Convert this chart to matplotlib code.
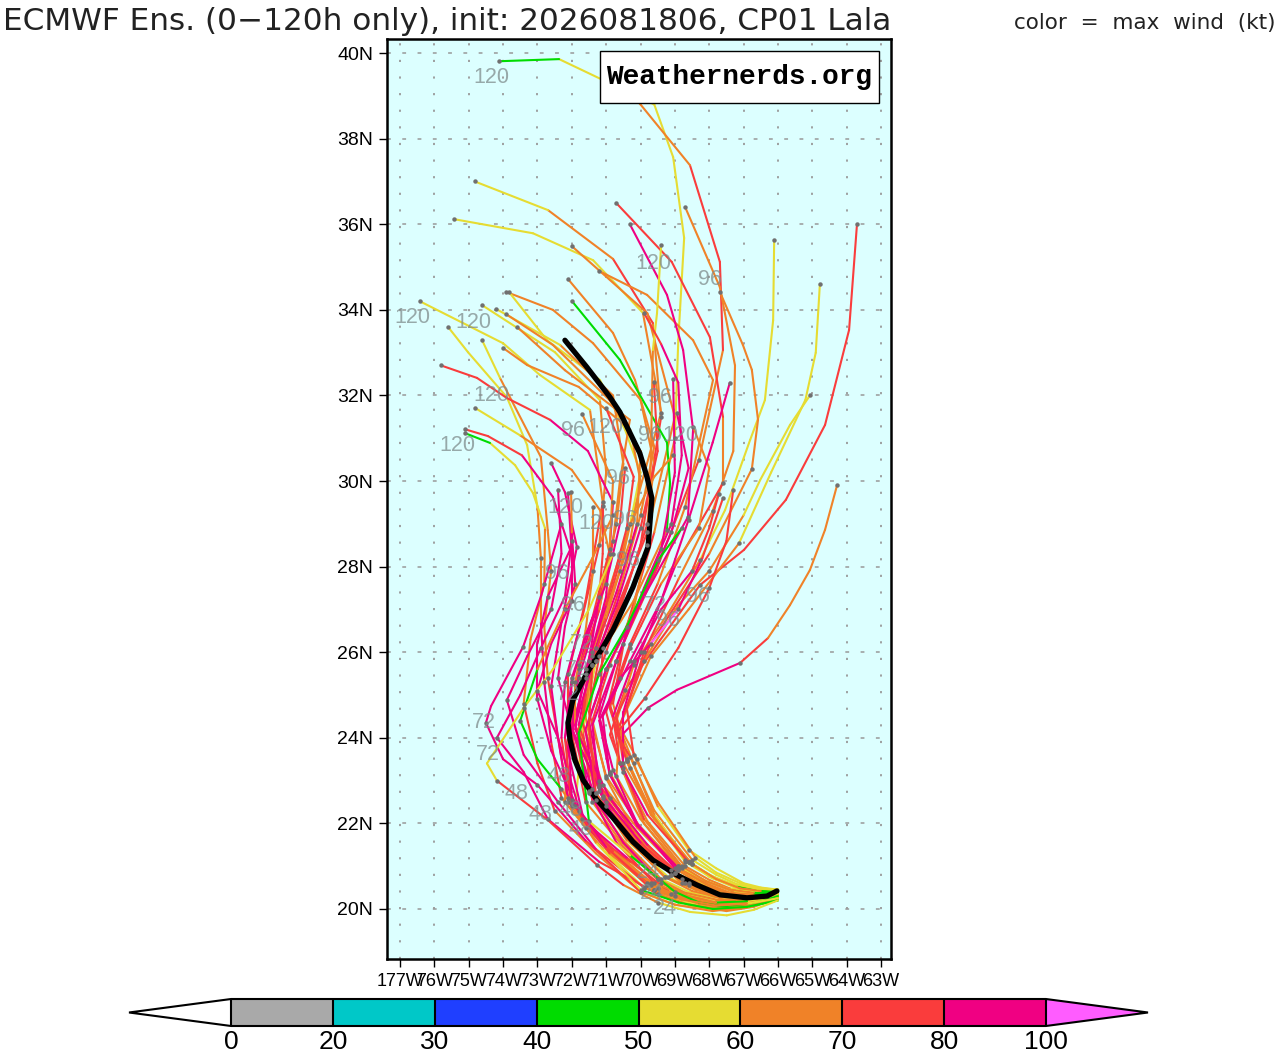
#!/usr/bin/env python
import matplotlib
matplotlib.use('Agg')
import matplotlib.pyplot as plt
from matplotlib.cm import ScalarMappable
from matplotlib.colors import BoundaryNorm, ListedColormap
from matplotlib.patches import Rectangle

# wind scale
wind_bounds = [0, 20, 30, 40, 50, 60, 70, 80, 100]
wind_colors = ['#a9a9a9', '#00c8c8', '#1f3fff', '#00dc00', '#e6dc32', '#f08228', '#fa3c3c', '#f00082']
wind_under = '#ffffff'
wind_over = '#ff5cff'

lat_ticks = [20, 22, 24, 26, 28, 30, 32, 34, 36, 38, 40]
lon_ticks = [-77, -76, -75, -74, -73, -72, -71, -70, -69, -68, -67, -66, -65, -64, -63]
lon_labels = ['177W', '76W', '75W', '74W', '73W', '72W', '71W', '70W', '69W', '68W', '67W', '66W', '65W', '64W', '63W']

# ensemble members: 0, 6, 12, 18, 24, 36, 48 h
early_lons = [
    [-66, -66.6, -67.2, -67.9, -68.5, -69.6, -70.3],
    [-66, -66.7, -67.4, -68.1, -68.8, -69.9, -70.6],
    [-66, -66.8, -67.6, -68.4, -69.2, -70.4, -71.3],
    [-66, -66.7, -67.4, -68.2, -69.0, -70.2, -71.1],
    [-66, -66.7, -67.3, -68.1, -68.9, -70.0, -71.0],
    [-66, -66.5, -67.1, -67.8, -68.6, -69.7, -70.4],
    [-66, -66.9, -67.8, -68.7, -69.5, -70.6, -71.4],
    [-66, -66.8, -67.7, -68.6, -69.6, -70.9, -71.9],
    [-66, -66.6, -67.3, -68.1, -68.9, -70.1, -70.9],
    [-66, -66.8, -67.6, -68.3, -69.1, -70.3, -71.2],
    [-66, -66.9, -67.8, -68.8, -69.8, -71.0, -72.2],
    [-66, -66.8, -67.7, -68.7, -69.7, -70.8, -72.0],
    [-66, -66.9, -67.7, -68.6, -69.4, -70.5, -71.5],
    [-66, -66.6, -67.2, -67.9, -68.7, -69.9, -71.0],
    [-66, -66.7, -67.5, -68.3, -69.0, -70.3, -71.6],
    [-66, -67.0, -67.9, -68.9, -69.9, -71.1, -72.3],
    [-66, -66.9, -67.8, -68.7, -69.7, -71.0, -72.1],
    [-66, -66.7, -67.4, -68.1, -68.9, -70.1, -71.2],
    [-66, -66.9, -67.8, -68.6, -69.4, -70.5, -71.6],
    [-66, -66.6, -67.3, -68.0, -68.8, -70.0, -71.1],
    [-66, -66.8, -67.7, -68.6, -69.5, -70.8, -71.8],
    [-66, -66.9, -67.9, -69.0, -70.0, -71.3, -72.5],
    [-66, -66.7, -67.5, -68.3, -69.1, -70.4, -71.7],
    [-66, -66.9, -67.9, -68.8, -69.8, -71.1, -72.1],
    [-66, -66.8, -67.5, -68.3, -69.1, -70.3, -71.4],
    [-66, -66.6, -67.2, -67.9, -68.6, -69.8, -71.0],
    [-66, -66.7, -67.4, -68.1, -69.0, -70.2, -71.2],
    [-66, -66.7, -67.4, -68.0, -68.7, -69.8, -70.5],
    [-66, -66.6, -67.3, -68.0, -68.6, -69.6, -70.2],
    [-66, -66.5, -67.1, -67.9, -68.7, -69.7, -70.4],
    [-66, -66.7, -67.4, -68.1, -68.9, -70.0, -70.7],
    [-66, -66.5, -67.0, -67.8, -68.6, -69.5, -70.1],
    [-66, -66.6, -67.2, -68.0, -68.7, -69.7, -70.5],
    [-66, -66.5, -67.1, -67.8, -68.4, -69.5, -70.2],
    [-66, -66.7, -67.4, -68.1, -68.8, -69.9, -70.5],
    [-66, -66.9, -67.8, -68.7, -69.5, -70.5, -71.3],
    [-66, -66.6, -67.4, -68.2, -69.1, -70.2, -71.0],
    [-66, -66.8, -67.6, -68.5, -69.3, -70.4, -71.2],
    [-66, -66.6, -67.3, -68.1, -68.8, -70.0, -71.1],
    [-66, -66.9, -67.8, -68.7, -69.6, -70.7, -71.5],
    [-66, -66.8, -67.7, -68.6, -69.6, -70.9, -72.0],
    [-66, -66.6, -67.2, -67.9, -68.6, -69.8, -70.9],
    [-66, -66.7, -67.4, -68.2, -69.0, -70.1, -70.8],
    [-66, -66.6, -67.2, -67.9, -68.5, -69.7, -70.4],
    [-66, -66.7, -67.4, -68.1, -68.9, -70.1, -70.9],
    [-66, -66.5, -67.1, -67.8, -68.6, -69.8, -70.6],
    [-66, -66.8, -67.6, -68.4, -69.3, -70.4, -71.3],
    [-66, -66.9, -67.8, -68.8, -69.8, -71.0, -72.0],
    [-66, -66.7, -67.5, -68.3, -69.0, -70.3, -71.5],
    [-66, -66.9, -67.9, -69.0, -70.0, -71.6, -73.0],
    [-66, -66.8, -67.7, -68.6, -69.5, -71.2, -72.7],
    [-66, -66.9, -67.8, -68.8, -69.9, -71.3, -72.4],
    [-66, -66.9, -67.9, -68.9, -70.0, -71.3, -72.3],
    [-66, -66.6, -67.2, -67.8, -68.5, -69.6, -70.3],
    [-66, -66.7, -67.4, -68.1, -68.9, -70.1, -70.9],
    [-66, -66.7, -67.49, -68.56, -69.5, -70.5, -71.27],
]
early_lats = [
    [20.45, 20.48, 20.55, 20.75, 21.05, 22.1, 23.3],
    [20.4, 20.38, 20.45, 20.65, 20.95, 22.0, 23.4],
    [20.35, 20.28, 20.3, 20.45, 20.75, 21.6, 22.7],
    [20.4, 20.3, 20.3, 20.5, 20.85, 21.8, 22.9],
    [20.4, 20.33, 20.35, 20.55, 20.9, 21.9, 23.1],
    [20.4, 20.42, 20.5, 20.7, 21.1, 22.3, 23.5],
    [20.3, 20.2, 20.2, 20.35, 20.7, 21.6, 22.5],
    [20.3, 20.1, 20.05, 20.2, 20.45, 21.3, 22.4],
    [20.4, 20.35, 20.4, 20.65, 21.0, 22.0, 23.2],
    [20.4, 20.3, 20.3, 20.5, 20.8, 21.75, 22.85],
    [20.25, 20.1, 20.1, 20.25, 20.55, 21.4, 22.5],
    [20.3, 20.15, 20.1, 20.3, 20.6, 21.4, 22.4],
    [20.35, 20.25, 20.25, 20.4, 20.7, 21.6, 22.7],
    [20.35, 20.25, 20.2, 20.35, 20.6, 21.4, 22.4],
    [20.25, 20.05, 19.95, 20.05, 20.3, 21.1, 21.9],
    [20.3, 20.1, 20.05, 20.2, 20.5, 21.4, 22.6],
    [20.25, 20.1, 20.1, 20.25, 20.55, 21.5, 22.6],
    [20.4, 20.32, 20.35, 20.55, 20.9, 21.9, 23.0],
    [20.3, 20.18, 20.15, 20.3, 20.6, 21.45, 22.5],
    [20.35, 20.22, 20.2, 20.35, 20.6, 21.5, 22.6],
    [20.25, 20.1, 20.05, 20.2, 20.5, 21.35, 22.3],
    [20.2, 20.05, 19.98, 20.1, 20.4, 21.3, 22.3],
    [20.3, 20.12, 20.02, 20.12, 20.35, 21.2, 22.1],
    [20.3, 20.15, 20.12, 20.28, 20.6, 21.5, 22.5],
    [20.4, 20.3, 20.3, 20.48, 20.8, 21.7, 22.8],
    [20.3, 20.2, 20.15, 20.3, 20.55, 21.4, 22.5],
    [20.35, 20.28, 20.3, 20.5, 20.85, 21.8, 22.9],
    [20.4, 20.4, 20.48, 20.68, 21.0, 22.05, 23.2],
    [20.45, 20.47, 20.55, 20.75, 21.1, 22.2, 23.4],
    [20.45, 20.45, 20.5, 20.72, 21.1, 22.25, 23.45],
    [20.4, 20.38, 20.45, 20.65, 21.0, 22.1, 23.1],
    [20.45, 20.5, 20.6, 20.95, 21.38, 22.4, 23.5],
    [20.4, 20.42, 20.52, 20.8, 21.15, 22.25, 23.4],
    [20.45, 20.48, 20.6, 20.85, 21.2, 22.5, 23.6],
    [20.4, 20.38, 20.45, 20.65, 21.0, 22.1, 23.3],
    [20.3, 20.22, 20.22, 20.38, 20.7, 21.55, 22.55],
    [20.4, 20.3, 20.32, 20.52, 20.9, 21.85, 23.05],
    [20.3, 20.24, 20.25, 20.42, 20.75, 21.65, 22.75],
    [20.35, 20.25, 20.25, 20.42, 20.7, 21.55, 22.65],
    [20.3, 20.18, 20.15, 20.32, 20.6, 21.55, 22.75],
    [20.3, 20.12, 20.08, 20.22, 20.45, 21.3, 22.45],
    [20.35, 20.25, 20.22, 20.35, 20.6, 21.5, 22.6],
    [20.4, 20.33, 20.35, 20.55, 20.95, 22.0, 23.25],
    [20.45, 20.42, 20.48, 20.72, 21.05, 22.2, 23.45],
    [20.4, 20.33, 20.38, 20.6, 20.95, 21.95, 23.15],
    [20.4, 20.42, 20.48, 20.7, 21.1, 22.2, 23.4],
    [20.35, 20.26, 20.27, 20.45, 20.75, 21.65, 22.7],
    [20.25, 20.1, 20.08, 20.25, 20.55, 21.45, 22.55],
    [20.3, 20.12, 20.05, 20.15, 20.4, 21.25, 22.05],
    [20.25, 20.05, 19.95, 20.1, 20.4, 21.6, 22.9],
    [20.25, 20.08, 20.0, 20.1, 20.35, 21.1, 22.1],
    [20.25, 20.12, 20.08, 20.22, 20.5, 21.4, 22.5],
    [20.2, 20.05, 20.0, 20.15, 20.45, 21.55, 22.8],
    [20.45, 20.48, 20.58, 20.8, 21.15, 22.3, 23.55],
    [20.4, 20.32, 20.36, 20.58, 20.95, 21.95, 23.15],
    [20.2, 19.98, 19.85, 19.93, 20.15, 20.56, 21.03],
]
early_winds = [
    [55, 55, 55, 55, 55, 65, 65],
    [55, 55, 55, 65, 65, 65, 75],
    [55, 45, 55, 55, 55, 65, 65],
    [55, 55, 55, 65, 65, 65, 65],
    [55, 45, 55, 65, 65, 65, 75],
    [55, 55, 55, 55, 65, 65, 75],
    [55, 45, 55, 55, 65, 65, 75],
    [45, 45, 45, 45, 55, 55, 55],
    [55, 55, 65, 65, 65, 65, 65],
    [55, 55, 55, 55, 55, 65, 65],
    [45, 45, 55, 55, 55, 65, 65],
    [55, 55, 55, 55, 65, 65, 75],
    [55, 45, 55, 55, 65, 65, 75],
    [55, 55, 65, 65, 65, 75, 75],
    [65, 65, 65, 65, 65, 75, 85],
    [45, 55, 55, 55, 55, 65, 75],
    [55, 45, 55, 55, 65, 65, 75],
    [55, 55, 55, 55, 65, 65, 75],
    [65, 65, 65, 65, 65, 65, 75],
    [55, 45, 55, 55, 65, 65, 75],
    [45, 55, 65, 65, 65, 75, 85],
    [45, 45, 55, 55, 65, 65, 75],
    [45, 65, 65, 65, 75, 85, 85],
    [55, 65, 65, 65, 75, 85, 85],
    [55, 65, 65, 65, 75, 85, 85],
    [65, 65, 65, 65, 75, 75, 85],
    [45, 55, 65, 65, 65, 75, 75],
    [45, 55, 65, 65, 65, 65, 75],
    [55, 55, 55, 55, 55, 65, 65],
    [55, 55, 55, 55, 55, 65, 65],
    [55, 55, 55, 55, 65, 65, 65],
    [55, 55, 55, 55, 55, 65, 65],
    [55, 45, 55, 55, 65, 65, 75],
    [55, 55, 55, 55, 65, 65, 75],
    [45, 65, 65, 65, 65, 75, 85],
    [65, 65, 65, 65, 85, 85, 85],
    [55, 55, 55, 55, 65, 65, 65],
    [45, 65, 65, 65, 75, 85, 85],
    [65, 65, 65, 65, 75, 85, 85],
    [55, 45, 65, 65, 75, 85, 85],
    [55, 55, 65, 65, 65, 75, 75],
    [65, 65, 65, 65, 75, 85, 85],
    [45, 65, 65, 65, 85, 85, 85],
    [55, 55, 55, 55, 65, 65, 75],
    [45, 65, 65, 65, 85, 85, 85],
    [45, 65, 65, 65, 75, 85, 75],
    [55, 55, 65, 65, 65, 65, 75],
    [55, 65, 65, 65, 75, 85, 85],
    [45, 45, 45, 45, 45, 55, 45],
    [55, 65, 65, 65, 75, 85, 85],
    [65, 65, 65, 65, 75, 85, 85],
    [55, 65, 65, 65, 75, 85, 85],
    [45, 45, 45, 45, 55, 65, 45],
    [55, 55, 55, 55, 65, 65, 75],
    [45, 65, 65, 65, 85, 85, 85],
    [55, 55, 55, 55, 65, 75, 75],
]

# same members from 60 h on
late_lons = [
    [-70.8, -70.4, -69.6, -69.0, -68.9, -68.73, -69.05, -69.6, -72.37, -74.12],
    [-71.0, -70.5, -69.5, -68.3, -67.6, -67.69, -68.56, -70.0, -71.0],
    [-71.8, -71.0, -70.0, -69.4, -69.64, -70.8, -72.69, -74.82],
    [-71.7, -71.3, -70.4, -69.4, -69.93, -71.38, -73.13, -75.43],
    [-71.5, -71.2, -70.6, -69.8, -69.0, -69.8, -72.0],
    [-70.9, -70.3, -69.5, -68.7, -67.89, -68.47, -69.81, -71.21],
    [-71.7, -71.3, -70.6, -70.0, -69.6, -70.16, -70.8, -72.11],
    [-71.7, -71.3, -70.2, -69.23, -69.14, -69.23, -70.6, -72.0],
    [-71.2, -71.1, -70.4, -69.8, -69.6, -70.0, -71.38, -72.55, -73.91],
    [-71.6, -71.4, -70.9, -70.3, -70.0, -70.45, -71.18, -72.72, -73.83],
    [-72.1, -72.1, -71.6, -71.1, -71.47, -72.93, -74.0, -76.42],
    [-72.3, -72.2, -71.7, -71.2, -71.0, -71.18, -72.49, -74.61],
    [-72.0, -71.8, -71.2, -70.7, -70.5, -70.8, -72.34, -74.2],
    [-71.8, -71.4, -70.7, -70.1, -70.0, -70.9, -72.55, -73.91],
    [-72.2, -71.8, -71.2, -70.8, -70.6, -70.31, -72.2, -73.59],
    [-72.6, -72.8, -72.9, -72.9, -73.0, -73.3, -73.89, -75.02, -75.6],
    [-72.4, -72.7, -72.8, -72.6, -72.7, -72.9, -74.09, -74.61],
    [-71.7, -71.5, -70.9, -70.3, -70.0, -70.3, -71.8, -73.3, -74.0],
    [-72.0, -71.6, -71.0, -70.8, -71.53, -72.63, -73.89, -74.76, -75.8],
    [-72.0, -71.8, -71.2, -70.9, -71.18, -72.0, -73.51, -74.82],
    [-72.6, -73.0, -73.0, -72.7, -72.05, -72.55, -73.45, -74.44, -75.11],
    [-73.0, -73.4, -73.2, -72.8, -72.78, -73.13, -73.65, -74.38, -75.11],
    [-72.4, -72.6, -72.3, -71.85, -72.2, -72.6],
    [-72.4, -73.0, -72.6, -72.0, -72.0, -72.11],
    [-72.0, -72.4, -72.2, -71.9, -72.0, -72.02],
    [-72.0, -71.6, -71.4, -71.2, -71.1, -71.09],
    [-71.9, -71.9, -71.6, -71.38, -71.38],
    [-70.89, -70.45, -69.43, -68.27, -66.99, -65.77, -64.63, -63.93, -63.7],
    [-70.7, -70.2, -69.14, -68.27, -67.54, -66.81, -66.38, -66.14, -66.11],
    [-70.6, -69.7, -68.6, -67.13, -66.2, -65.2, -64.9, -64.78],
    [-70.6, -69.9, -68.9, -68.0, -67.0, -66.52, -65.65, -65.07],
    [-70.5, -69.78, -68.94, -67.1, -66.29, -65.65, -65.07, -64.63, -64.28],
    [-70.7, -69.7, -68.0, -66.76, -66.58, -66.76, -67.02, -67.69],
    [-70.4, -69.9, -68.9, -67.9, -67.3, -67.25, -67.69, -68.7],
    [-70.5, -70.0, -69.0, -67.6, -67.6, -67.98, -69.09, -70.71],
    [-71.6, -71.0, -69.9, -68.62, -68.47, -68.76, -69.23, -70.31],
    [-71.4, -70.9, -70.2, -69.8, -69.7, -69.64, -69.52, -69.4],
    [-71.4, -70.7, -69.9, -69.1, -68.8, -68.9, -69.4, -69.9],
    [-71.5, -71.0, -70.2, -69.4, -69.0, -69.05],
    [-71.9, -71.4, -70.7, -70.0, -69.5, -69.61],
    [-72.2, -72.0, -71.4, -70.9, -70.8, -71.7],
    [-71.9, -71.6, -71.0, -70.4, -70.2, -71.0],
    [-71.2, -70.7, -70.0, -69.1, -68.6, -68.94],
    [-70.9, -70.3, -69.4, -68.3, -68.0, -68.47],
    [-71.1, -70.3, -69.4, -68.6, -67.9, -67.4],
    [-70.8, -70.2, -69.4, -68.5, -68.0, -67.72],
    [-71.5, -71.4, -71.0, -70.6, -70.3, -69.6, -69.05],
    [-72.1, -72.0, -71.6, -71.0, -70.6, -70.45],
    [-71.8, -71.2, -70.4, -69.49, -68.8],
    [-74.0, -74.5, -74.35, -73.42, -72.9, -72.3],
    [-73.4, -74.18, -73.5, -72.9, -72.2, -72.0],
    [-73.4, -73.89, -73.3, -72.6, -72.3, -72.4],
    [-73.0, -73.5, -73.0, -72.2, -71.4, -70.8],
    [-70.7, -69.87, -68.9, -68.0, -67.5, -67.3],
    [-71.2, -70.6, -69.7, -68.9, -68.2, -67.6],
    [-72.7, -74.18, -74.47, -73.4, -72.55, -71.5, -70.8],
]
late_lats = [
    [24.8, 26.6, 28.8, 31.0, 33.3, 35.68, 37.57, 38.8, 39.86, 39.81],
    [24.6, 26.2, 28.0, 30.5, 33.06, 35.12, 37.38, 38.8, 39.6],
    [24.2, 26.0, 28.5, 31.5, 33.69, 35.19, 36.33, 37.0],
    [24.4, 26.1, 28.7, 31.6, 33.93, 35.16, 35.79, 36.12],
    [24.6, 25.9, 27.2, 28.8, 31.5, 33.92, 35.49],
    [24.8, 26.2, 27.6, 29.4, 32.36, 33.29, 34.35, 34.91],
    [24.3, 25.8, 27.5, 29.2, 30.8, 32.36, 33.46, 34.72],
    [24.1, 25.8, 27.2, 28.86, 29.95, 30.9, 32.83, 34.21],
    [24.5, 26.1, 27.5, 29.0, 30.4, 31.9, 33.22, 34.0, 34.42],
    [24.5, 26.0, 27.5, 29.0, 30.2, 31.2, 32.36, 33.29, 34.42],
    [24.1, 25.5, 27.2, 29.5, 31.66, 32.48, 33.22, 34.2],
    [24.0, 25.3, 26.8, 28.5, 30.2, 31.89, 33.01, 34.11],
    [24.3, 25.7, 27.2, 29.0, 30.4, 32.0, 33.18, 34.02],
    [24.3, 25.9, 27.4, 29.0, 30.7, 31.89, 33.18, 33.9],
    [24.0, 25.4, 27.0, 28.6, 30.0, 31.43, 32.59, 33.6],
    [23.9, 25.3, 26.7, 28.2, 29.4, 30.84, 31.96, 33.01, 33.6],
    [24.0, 25.4, 26.6, 27.9, 28.85, 30.56, 32.41, 33.29],
    [24.4, 25.8, 27.2, 28.6, 30.0, 31.2, 32.2, 32.71, 33.11],
    [24.1, 25.5, 27.3, 29.5, 30.7, 31.43, 31.94, 32.41, 32.7],
    [24.2, 25.6, 27.0, 28.3, 29.32, 30.26, 31.07, 31.71],
    [23.7, 24.9, 26.2, 27.3, 28.39, 29.63, 30.6, 31.05, 31.21],
    [23.4, 24.8, 26.3, 27.6, 28.9, 29.72, 30.37, 30.89, 31.12],
    [24.0, 25.2, 26.7, 28.46, 29.74, 30.42],
    [24.0, 25.1, 26.2, 27.2, 28.3, 29.72],
    [24.2, 25.4, 26.6, 27.6, 28.8, 29.74],
    [24.2, 25.4, 26.3, 27.3, 28.3, 29.42],
    [24.3, 25.3, 26.5, 27.9, 29.4],
    [24.07, 25.12, 26.28, 27.57, 28.39, 29.56, 31.31, 33.53, 36.0],
    [24.4, 25.7, 26.98, 28.15, 29.32, 30.96, 31.89, 33.76, 35.63],
    [24.3, 25.9, 27.0, 28.55, 30.2, 31.9, 33.0, 34.6],
    [24.3, 25.8, 27.1, 27.9, 29.2, 30.02, 31.31, 32.0],
    [24.1, 24.7, 25.12, 25.75, 26.33, 27.1, 27.92, 28.86, 29.9],
    [24.5, 26.2, 28.3, 30.28, 31.43, 32.6, 33.18, 34.42],
    [24.7, 26.0, 27.7, 29.3, 30.7, 32.7, 34.53, 36.4],
    [24.6, 26.0, 28.0, 29.95, 31.5, 33.36, 35.12, 36.5],
    [24.2, 25.6, 27.3, 29.16, 31.2, 33.06, 34.35, 36.0],
    [24.4, 25.7, 27.0, 28.5, 30.5, 33.06, 33.92, 35.51],
    [24.3, 25.8, 27.5, 29.0, 30.6, 32.3, 33.2, 33.93],
    [24.4, 25.6, 26.9, 28.4, 30.2, 32.38],
    [24.3, 25.7, 27.1, 28.9, 30.7, 32.31],
    [24.0, 25.4, 26.8, 28.4, 30.0, 31.57],
    [24.2, 25.6, 27.1, 28.9, 30.1, 31.7],
    [24.5, 25.8, 27.2, 28.8, 30.3, 31.59],
    [24.7, 26.1, 27.6, 28.9, 30.3, 31.27],
    [24.5, 25.8, 27.2, 29.1, 30.9, 32.3],
    [24.5, 25.8, 27.0, 27.9, 28.9, 29.7],
    [24.3, 25.7, 26.8, 27.9, 29.0, 30.1, 30.6],
    [24.1, 25.3, 26.4, 27.6, 29.0, 30.3],
    [24.1, 25.5, 26.6, 28.15, 28.9],
    [23.5, 24.35, 24.74, 26.12, 27.3, 29.0],
    [23.2, 24.0, 25.0, 26.1, 27.3, 28.6],
    [23.6, 24.88, 25.9, 27.0, 28.3, 29.8],
    [23.5, 24.4, 25.6, 27.0, 28.2, 29.2],
    [24.1, 24.93, 26.1, 27.5, 28.6, 29.8],
    [24.4, 25.4, 26.2, 27.0, 28.2, 29.6],
    [22.08, 23.0, 23.4, 24.7, 25.6, 27.0, 28.3],
]
late_winds = [
    [75, 75, 65, 55, 55, 55, 55, 55, 45, 45],
    [75, 75, 75, 65, 75, 75, 65, 65, 65],
    [75, 75, 75, 65, 75, 65, 55, 55],
    [75, 75, 65, 65, 55, 55, 55, 55],
    [75, 75, 75, 65, 65, 65, 65],
    [75, 75, 65, 65, 65, 65, 65, 65],
    [75, 75, 65, 65, 65, 65, 65, 65],
    [55, 65, 65, 45, 45, 45, 45, 45],
    [75, 75, 75, 65, 65, 65, 65, 65, 65],
    [65, 65, 65, 55, 55, 55, 55, 55, 55],
    [75, 75, 75, 65, 55, 55, 55, 55],
    [85, 85, 75, 65, 65, 55, 55, 55],
    [75, 85, 75, 65, 65, 65, 55, 55],
    [85, 85, 85, 65, 65, 65, 65, 65],
    [85, 85, 75, 65, 65, 65, 65, 65],
    [85, 85, 65, 65, 55, 55, 55, 55, 55],
    [75, 65, 65, 65, 65, 65, 55, 55],
    [75, 65, 65, 65, 65, 65, 65, 65, 65],
    [85, 85, 85, 85, 85, 75, 75, 75, 75],
    [85, 75, 65, 65, 65, 65, 55, 55],
    [85, 85, 85, 85, 85, 85, 75, 75, 75],
    [75, 65, 65, 65, 55, 55, 55, 45, 45],
    [85, 85, 85, 85, 85, 85],
    [85, 85, 85, 85, 85, 85],
    [85, 85, 85, 85, 65, 65],
    [85, 85, 85, 75, 75, 75],
    [65, 65, 65, 65, 65],
    [75, 75, 75, 75, 75, 75, 75, 75, 75],
    [65, 65, 65, 55, 55, 55, 55, 55, 55],
    [65, 65, 65, 55, 55, 55, 55, 55],
    [75, 65, 65, 65, 55, 55, 55, 55],
    [85, 85, 85, 75, 65, 65, 65, 65, 65],
    [75, 75, 65, 65, 65, 65, 65, 65],
    [75, 75, 65, 65, 65, 65, 65, 65],
    [85, 85, 75, 65, 75, 75, 75, 75],
    [85, 85, 85, 85, 85, 85, 85, 85],
    [75, 65, 65, 65, 65, 55, 55, 55],
    [85, 85, 85, 85, 85, 85, 75, 75],
    [85, 85, 85, 85, 85, 75, 75],
    [85, 85, 85, 75, 75, 75],
    [85, 85, 75, 65, 65, 65],
    [85, 85, 75, 75, 75, 75],
    [85, 85, 85, 85, 85, 85],
    [75, 75, 65, 65, 65, 65],
    [85, 85, 85, 85, 85, 75],
    [85, 85, 85, 75, 75, 75],
    [75, 75, 65, 65, 65, 65, 65],
    [85, 85, 85, 85, 75, 75],
    [45, 45, 45, 45, 45],
    [85, 85, 85, 85, 85, 85],
    [85, 85, 85, 85, 85, 85],
    [85, 85, 85, 85, 85, 85],
    [45, 45, 65, 65, 65, 65],
    [75, 75, 75, 75, 75, 75],
    [85, 85, 105, 85, 75, 75],
    [75, 55, 55, 55, 55, 55, 55],
]

# ensemble mean
mean_lons = [-66.03, -66.32, -66.9, -67.69, -68.36, -68.94, -69.64, -70.22, -70.8, -71.27, -71.67, -71.91, -72.05,
             -72.11, -71.97, -71.56, -71.09, -70.8, -70.22, -69.78, -69.67, -69.81, -70.02, -70.6, -70.89, -71.56, -72.2]
mean_lats = [20.42, 20.3, 20.26, 20.33, 20.56, 20.79, 21.14, 21.57, 22.13, 22.55, 23.01, 23.48, 23.95,
             24.35, 24.88, 25.51, 26.12, 26.52, 27.52, 28.46, 29.6, 30.09, 30.65, 31.61, 31.96, 32.66, 33.29]

# forecast hour labels
hour_text = ['120', '120', '96', '120', '120', '120', '96', '120', '96', '96', '120', '120', '96', '120', '120', '96',
             '96', '96', '96', '72', '96', '96', '72', '72', '72', '72', '72', '48', '48', '48', '48', '48', '24', '24', '24']
hour_lons = [-74.35, -69.64, -67.98, -76.65, -74.85, -74.35, -71.97, -71.03, -69.43, -69.72, -68.85, -75.34, -70.66,
             -72.2, -71.27, -70.45, -72.43, -70.36, -71.97, -69.58, -68.33, -69.2, -71.7, -71.85, -72.1, -74.55,
             -74.44, -73.6, -72.9, -72.05, -71.76, -72.4, -69.29, -69.67, -69.8]
hour_lats = [39.42, 35.09, 34.7, 33.81, 33.71, 32.0, 31.17, 31.26, 31.96, 31.07, 31.07, 30.82, 30.07, 29.37, 29.0,
             29.09, 27.83, 28.15, 27.1, 27.1, 27.3, 26.75, 26.2, 25.6, 25.0, 24.35, 23.6, 22.69, 22.2, 22.3, 21.85,
             23.1, 20.02, 20.37, 20.85]

cmap = ListedColormap(wind_colors)
cmap.set_under(wind_under)
cmap.set_over(wind_over)
norm = BoundaryNorm(wind_bounds, cmap.N)

fig = plt.figure(figsize=(12.78, 10.56), dpi=100)
ax = fig.add_axes([387 / 1278, 97 / 1056, 504 / 1278, 920 / 1056])
ax.set_facecolor('#dcffff')
ax.set_xlim(-77.378, -62.71)
ax.set_ylim(18.83, 40.33)

ax.set_xticks(lon_ticks)
ax.set_xticklabels(lon_labels, family='Liberation Sans', fontsize=13)
ax.set_yticks(lat_ticks)
ax.set_yticklabels(['%dN' % v for v in lat_ticks], family='Liberation Sans', fontsize=14)
ax.tick_params(length=6, width=1, pad=4)
for spine in ax.spines.values():
    spine.set_linewidth(1.8)

for lat in lat_ticks:
    ax.axhline(lat, color='#999999', lw=1.1, ls=(0, (2.5, 7.5)), zorder=1)
for lon in lon_ticks:
    ax.axvline(lon, color='#999999', lw=1.3, ls=(0, (1.2, 8)), zorder=1)

for e_lons, l_lons, e_lats, l_lats, e_winds, l_winds in zip(early_lons, late_lons, early_lats, late_lats,
                                                            early_winds, late_winds):
    lons = e_lons + l_lons
    lats = e_lats + l_lats
    winds = e_winds + l_winds
    for i in range(len(lons) - 1):
        ax.plot(lons[i:i + 2], lats[i:i + 2], color=cmap(norm(winds[i])), lw=1.5,
                solid_capstyle='round', zorder=3)
    # 24 h markers plus the last point
    idx = [4, 6, 8, 10, len(lons) - 1]
    ax.plot([lons[i] for i in idx], [lats[i] for i in idx], 'o', color='#707070', ms=3.2, mew=0, zorder=5)

ax.plot(mean_lons, mean_lats, color='black', lw=3.8, solid_capstyle='round', solid_joinstyle='round', zorder=4)

for text, lon, lat in zip(hour_text, hour_lons, hour_lats):
    ax.text(lon, lat, text, ha='center', va='center', color='#7f8c8c', alpha=0.75, fontsize=15.5,
            family='Liberation Sans', zorder=6)

ax.add_patch(Rectangle((0.4226, 0.9304), 0.5536, 0.0565, transform=ax.transAxes, fc='white', ec='black', lw=1, zorder=7))
ax.text(0.6994, 0.9587, 'Weathernerds.org', transform=ax.transAxes, ha='center', va='center', family='Liberation Mono',
        weight='bold', fontsize=20, zorder=8)

fig.text(3 / 1278, 1 - 30 / 1056, 'ECMWF Ens. (0\u2212120h only), init: 2026081806, CP01 Lala', fontsize=22.4,
         ha='left', va='baseline', color='#222222')
fig.text(1275 / 1278, 1 - 29 / 1056, 'color  =  max  wind  (kt)', fontsize=15.5, ha='right', va='baseline',
         color='#222222')

cax = fig.add_axes([129 / 1278, 30 / 1056, 1019 / 1278, 27 / 1056])
cb = fig.colorbar(ScalarMappable(norm=norm, cmap=cmap), cax=cax, orientation='horizontal', extend='both',
                  extendfrac=102 / 814, spacing='uniform', ticks=wind_bounds, drawedges=True)
cb.ax.set_xticklabels([str(v) for v in wind_bounds], family='Liberation Sans', fontsize=19)
cb.ax.tick_params(length=0, pad=3)
cb.outline.set_linewidth(1.5)
cb.dividers.set_linewidth(1.5)

fig.savefig('out.png', dpi=100)
